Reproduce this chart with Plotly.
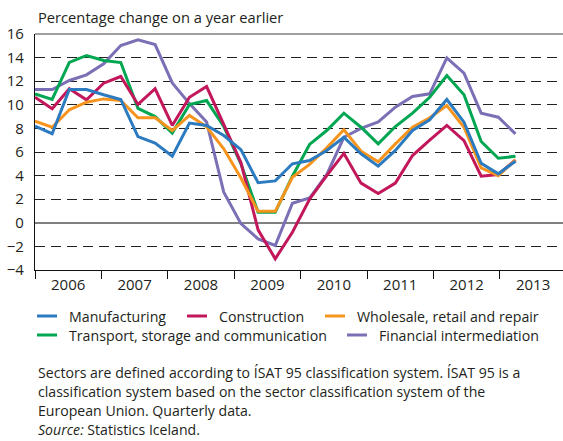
import plotly.graph_objects as go

quarters = list(range(29))  # 2006Q1 .. 2013Q1

manufacturing = [8.2, 7.55, 11.3, 11.3, 10.85, 10.45, 7.3, 6.75, 5.65, 8.45, 8.25, 7.4,
                 6.2, 3.4, 3.55, 5.0, 5.28, 6.13, 7.25, 5.85, 4.8, 6.13, 7.82, 8.73,
                 10.45, 8.53, 5.05, 4.15, 5.22]
construction = [10.64, 9.66, 11.36, 10.42, 11.83, 12.4, 10.03, 11.36, 8.25, 10.64, 11.55, 8.39,
                5.1, -0.6, -3.05, -0.8, 2.0, 4.0, 5.88, 3.36, 2.48, 3.36, 5.7, 7.0,
                8.25, 6.97, 3.95, 4.09, 5.34]
wholesale = [8.61, 8.1, 9.58, 10.22, 10.5, 10.36, 8.9, 8.9, 7.82, 9.1, 8.13, 6.27,
             3.8, 0.97, 0.97, 3.86, 4.95, 6.35, 7.88, 6.07, 5.17, 6.69, 8.1, 8.9,
             9.94, 8.1, 4.66, 4.0, 5.34]
transport = [10.93, 10.45, 13.6, 14.18, 13.75, 13.58, 9.7, 9.0, 7.6, 10.03, 10.36, 8.16,
             5.0, 0.9, 0.9, 3.95, 6.64, 7.82, 9.29, 8.1, 6.69, 8.16, 9.29, 10.64,
             12.48, 10.85, 6.89, 5.47, 5.64]
financial = [11.3, 11.3, 12.06, 12.54, 13.47, 15.03, 15.5, 15.1, 11.86, 10.1, 8.55, 2.6,
             -0.07, -1.36, -1.92, 1.66, 2.1, 4.08, 7.25, 8.0, 8.55, 9.8, 10.7, 10.93,
             13.98, 12.68, 9.29, 8.95, 7.54]

years = ["2006", "2007", "2008", "2009", "2010", "2011", "2012", "2013"]
year_width = 3.87  # x-units per year on the axis
y_ticks = [-4, -2, 0, 2, 4, 6, 8, 10, 12, 14, 16]

series = [
    ("Financial intermediation", financial, "#7B6FB5"),
    ("Transport, storage and communication", transport, "#00A651"),
    ("Construction", construction, "#C2185B"),
    ("Wholesale, retail and repair", wholesale, "#F7941E"),
    ("Manufacturing", manufacturing, "#2C7BC0"),
]

FONT = "Open Sans"
TXT = "#231F20"
W, H = 563, 441
L, T, R, B = 35, 34, 0, 171
pw, ph = W - L - R, H - T - B

def px(x):
    return (x - L) / pw

def py(y):
    return (H - B - y) / ph

fig = go.Figure()
for name, vals, col in series:
    fig.add_trace(go.Scatter(x=quarters, y=vals, mode="lines", name=name,
                             line=dict(color=col, width=3), showlegend=False))

fig.update_layout(
    width=W, height=H,
    margin=dict(l=L, r=R, t=T, b=B),
    plot_bgcolor="white", paper_bgcolor="white",
    font=dict(family=FONT, size=14, color=TXT),
    xaxis=dict(range=[0, pw / 17.16], showgrid=False, zeroline=False,
               showline=True, linecolor="#111", linewidth=1.2,
               tickvals=[(k + 0.5) * year_width for k in range(len(years))],
               ticktext=years, ticks="", ticklabelstandoff=1,
               tickfont=dict(size=15, family=FONT, color=TXT),
               minor=dict(tickvals=[k * year_width for k in range(len(years))],
                          ticks="outside", ticklen=8, tickcolor="#111", tickwidth=1.2)),
    yaxis=dict(range=[-4, 16], tickvals=y_ticks, showgrid=True, gridcolor="#222",
               griddash="10px,6px", gridwidth=1.2, zeroline=True, zerolinecolor="#808080",
               zerolinewidth=1.5, showline=True, linecolor="#111", linewidth=1.2,
               ticks="", ticklabelstandoff=7,
               tickfont=dict(size=15, family=FONT, color=TXT)),
)

# top frame line
fig.add_shape(type="line", xref="paper", yref="paper", x0=0, x1=1, y0=1, y1=1,
              line=dict(color="#808080", width=1.5))

fig.add_annotation(text="Percentage change on a year earlier", xref="paper", yref="paper",
                   x=px(36), y=py(17), xanchor="left", yanchor="middle", showarrow=False,
                   font=dict(size=14.7, family=FONT, color=TXT))

# legend (manual)
legend_items = [
    ("Manufacturing", "#2C7BC0", 37, 316),
    ("Construction", "#C2185B", 187, 316),
    ("Wholesale, retail and repair", "#F7941E", 325, 316),
    ("Transport, storage and communication", "#00A651", 37, 335),
    ("Financial intermediation", "#7B6FB5", 347, 335),
]
for name, col, x0, y0 in legend_items:
    fig.add_shape(type="line", xref="paper", yref="paper", x0=px(x0), x1=px(x0 + 20),
                  y0=py(y0), y1=py(y0), line=dict(color=col, width=3))
    fig.add_annotation(text=name, xref="paper", yref="paper", x=px(x0 + 30), y=py(y0),
                       xanchor="left", yanchor="middle", showarrow=False,
                       font=dict(size=14.2, family=FONT, color=TXT))

notes = [
    ("Sectors are defined according to ÍSAT 95 classification system. ÍSAT 95 is a", 372),
    ("classification system based on the sector classification system of the", 391),
    ("European Union. Quarterly data.", 410),
    ("<i>Source:</i> Statistics Iceland.", 429),
]
for txt, yy in notes:
    fig.add_annotation(text=txt, xref="paper", yref="paper", x=px(36), y=py(yy),
                       xanchor="left", yanchor="middle", showarrow=False,
                       font=dict(size=14.1, family=FONT, color=TXT))

fig.write_html("out.html", config={"displayModeBar": False},
               post_script="document.body.style.margin='0';document.body.style.overflow='hidden';")
